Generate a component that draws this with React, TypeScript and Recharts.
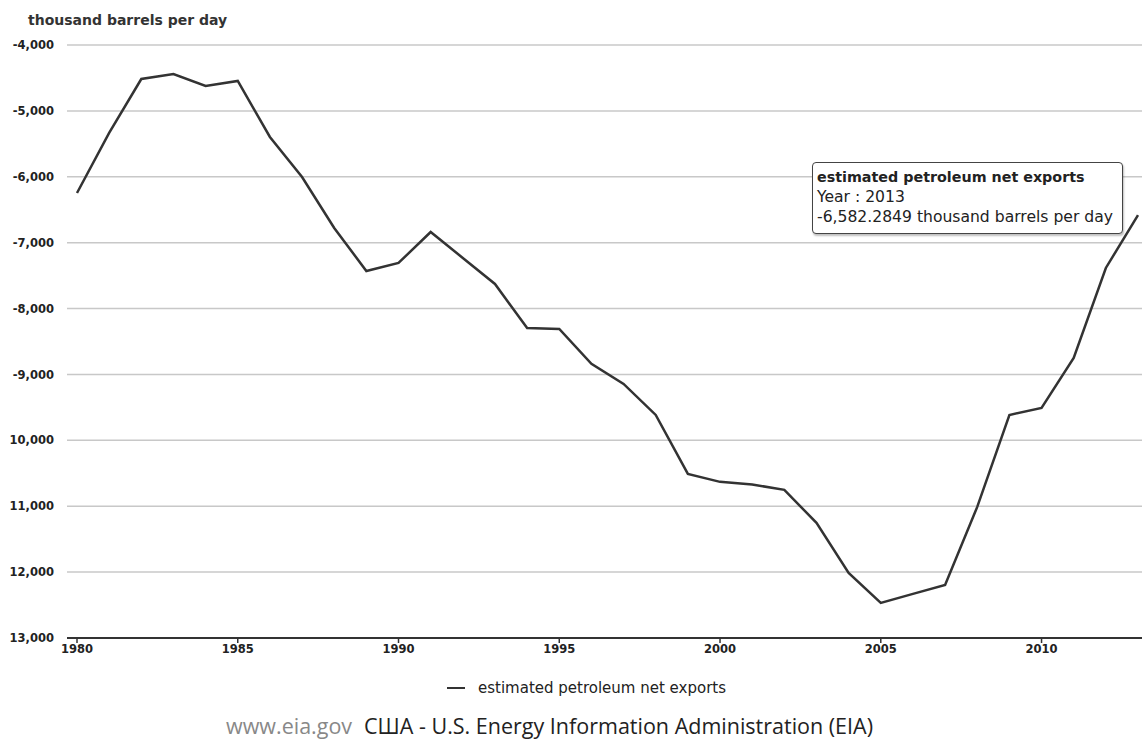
import React from "react";
import { LineChart, Line, XAxis, YAxis, CartesianGrid, Tooltip, Legend } from "recharts";

const years = [
  1980, 1981, 1982, 1983, 1984, 1985, 1986, 1987, 1988, 1989,
  1990, 1991, 1992, 1993, 1994, 1995, 1996, 1997, 1998, 1999,
  2000, 2001, 2002, 2003, 2004, 2005, 2006, 2007, 2008, 2009,
  2010, 2011, 2012, 2013,
];

// thousand barrels per day
const netExports = [
  -6246, -5335, -4516, -4440, -4622, -4546, -5396, -6003, -6777, -7430,
  -7308, -6838, -7232, -7627, -8294, -8310, -8840, -9144, -9615, -10510,
  -10630, -10670, -10752, -11253, -12012, -12467, -12330, -12195, -11010, -9615,
  -9508, -8750, -7384, -6582.2849,
];

const yTicks = [-4000, -5000, -6000, -7000, -8000, -9000, -10000, -11000, -12000, -13000];
const yTickLabels = ["-4,000", "-5,000", "-6,000", "-7,000", "-8,000", "-9,000", "10,000", "11,000", "12,000", "13,000"];
const xTicks = [1980, 1985, 1990, 1995, 2000, 2005, 2010];

const seriesName = "estimated petroleum net exports";
const unit = "thousand barrels per day";

const chartData = years.map((year, i) => ({ year, value: netExports[i] }));

const FONT = "'DejaVu Sans', Verdana, sans-serif";

function InfoBox({ payload }: any) {
  if (!payload || !payload.length) return null;
  const p = payload[0].payload;
  const v = p.value.toLocaleString("en-US", { minimumFractionDigits: 4, maximumFractionDigits: 4 });
  return (
    <div
      style={{
        background: "#fff",
        border: "1.5px solid #444",
        borderRadius: 4,
        padding: "4px 9px 6px 4px",
        fontFamily: FONT,
        fontSize: 15.6,
        lineHeight: "20px",
        color: "#222",
        whiteSpace: "nowrap",
        boxShadow: "1px 2px 2px rgba(0,0,0,0.25)",
      }}
    >
      <div style={{ fontWeight: "bold", fontSize: 14.3 }}>{seriesName}</div>
      <div>Year : {p.year}</div>
      <div>
        {v} {unit}
      </div>
    </div>
  );
}

export default function App() {
  return (
    <div style={{ position: "absolute", left: 0, top: 0, width: 1142, height: 742, background: "#fff", overflow: "hidden" }}>
      <div
        style={{
          position: "absolute",
          left: 28,
          top: 12,
          fontFamily: FONT,
          fontWeight: "bold",
          fontSize: 14,
          color: "#333",
          whiteSpace: "nowrap",
        }}
      >
        {unit}
      </div>
      <LineChart
        width={1142}
        height={742}
        data={chartData}
        margin={{ top: 45, right: 0, bottom: 74, left: 0 }}
      >
        <CartesianGrid vertical={false} stroke="#c8c8c8" strokeWidth={1.5} />
        <XAxis
          dataKey="year"
          type="number"
          domain={[1980, 2013]}
          ticks={xTicks}
          padding={{ left: 10, right: 4 }}
          height={30}
          tickSize={5}
          tickMargin={2}
          axisLine={{ stroke: "#333", strokeWidth: 2 }}
          tickLine={{ stroke: "#333", strokeWidth: 1.5 }}
          tick={{ fill: "#222", fontSize: 11.5, fontFamily: FONT, fontWeight: "bold" }}
        />
        <YAxis
          type="number"
          domain={[-13000, -4000]}
          ticks={yTicks}
          width={67}
          axisLine={false}
          tickLine={false}
          tickSize={0}
          tickMargin={13}
          interval={0}
          tickFormatter={(v: number) => yTickLabels[yTicks.indexOf(v)]}
          tick={{ fill: "#222", fontSize: 11.5, fontFamily: FONT, fontWeight: "bold" }}
        />
        <Tooltip
          active
          defaultIndex={33}
          position={{ x: 812, y: 162 }}
          cursor={false}
          isAnimationActive={false}
          content={<InfoBox />}
        />
        <Legend
          verticalAlign="middle"
          align="center"
          wrapperStyle={{ top: 679, left: 0, width: 1142 }}
          content={() => (
            <div style={{ display: "flex", justifyContent: "center", alignItems: "center", paddingLeft: 30, fontFamily: FONT, fontSize: 15, color: "#222" }}>
              <svg width={20} height={10} style={{ marginRight: 12 }}>
                <line x1={1} y1={5} x2={19} y2={5} stroke="#333" strokeWidth={2} />
              </svg>
              <span>{seriesName}</span>
            </div>
          )}
        />
        <Line
          type="linear"
          dataKey="value"
          name={seriesName}
          stroke="#333"
          strokeWidth={2.5}
          dot={false}
          activeDot={false}
          isAnimationActive={false}
        />
      </LineChart>
      <div
        style={{
          position: "absolute",
          left: 226,
          top: 711,
          fontFamily: "'Open Sans', sans-serif",
          whiteSpace: "nowrap",
          lineHeight: "normal",
        }}
      >
        <span style={{ fontSize: 21.5, color: "#888", marginRight: 12 }}>www.eia.gov</span>
        <span style={{ fontSize: 21.5, color: "#222" }}>США - U.S. Energy Information Administration (EIA)</span>
      </div>
    </div>
  );
}
